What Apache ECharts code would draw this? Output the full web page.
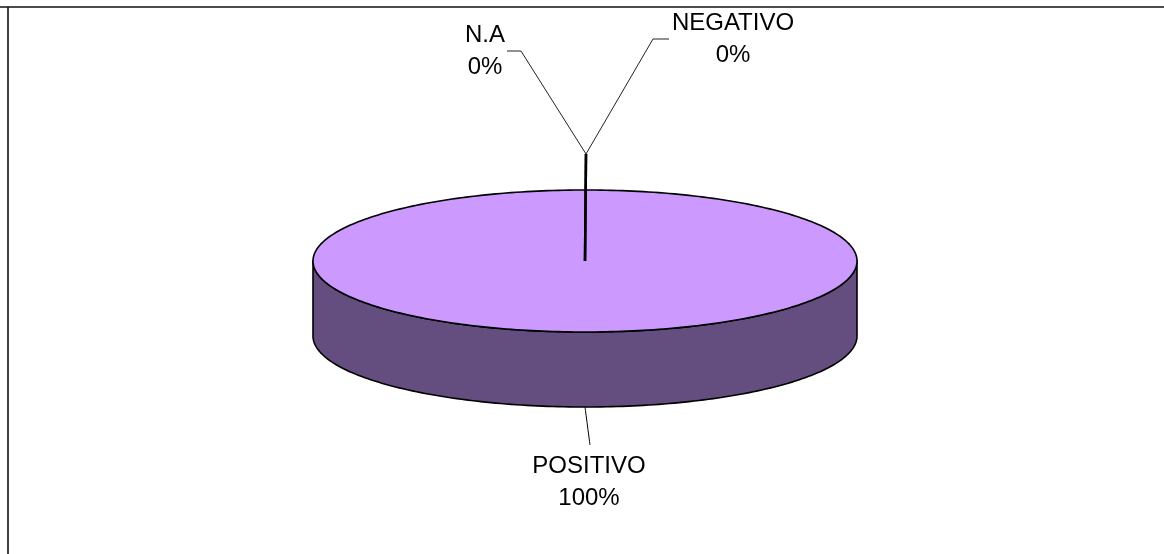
<!DOCTYPE html>
<html><head><meta charset="utf-8">
<script src="https://cdn.jsdelivr.net/npm/echarts@6/dist/echarts.min.js"></script>
<style>html,body{margin:0;padding:0;background:#fff}#main{width:1164px;height:554px}</style>
</head><body><div id="main"></div>
<script>
// ---- data ----
const categories = ['POSITIVO', 'NEGATIVO', 'N.A'];
const values = [100, 0, 0];

// ---- styling / layout (not data) ----
const topColor = '#CC99FF';
const sideColor = '#644E7F';
const geom = { cx: 585, cy: 261, rx: 272, ry: 71, depth: 75 };
const labelLayout = {
  'POSITIVO': { text: [589, 482], path: [[590, 445]] },
  'NEGATIVO': { text: [733, 39], path: [[586, 154], [653, 39], [669, 39]] },
  'N.A': { text: [485, 51.5], path: [[586, 154], [521, 51], [507, 51]] }
};

const total = values.reduce((a, b) => a + b, 0);

function renderItem(params, api) {
  const i = params.dataIndex;
  const v = api.value(1);
  let before = 0;
  for (let k = 0; k < i; k++) before += values[k];
  const a0 = before / total * 2 * Math.PI;
  const a1 = (before + v) / total * 2 * Math.PI;
  const G = geom;
  const pt = (t, dy) => [G.cx + G.rx * Math.sin(t), G.cy - G.ry * Math.cos(t) + (dy || 0)];
  const children = [];
  if (v > 0) {
    const s0 = Math.max(a0, Math.PI / 2), s1 = Math.min(a1, 3 * Math.PI / 2);
    if (s1 > s0) {
      const n = 160, pts = [];
      for (let k = 0; k <= n; k++) pts.push(pt(s0 + (s1 - s0) * k / n));
      for (let k = n; k >= 0; k--) pts.push(pt(s0 + (s1 - s0) * k / n, G.depth));
      children.push({ type: 'polygon', shape: { points: pts },
        style: { fill: sideColor, stroke: '#000', lineWidth: 1.6, lineJoin: 'round' }, z2: 1 });
    }
    const n = 320, pts = [];
    const full = (a1 - a0) >= 2 * Math.PI - 1e-9;
    for (let k = 0; k < n + (full ? 0 : 1); k++) pts.push(pt(a0 + (a1 - a0) * k / n));
    if (!full) pts.push([G.cx, G.cy]);
    children.push({ type: 'polygon', shape: { points: pts },
      style: { fill: topColor, stroke: '#000', lineWidth: 1.6, lineJoin: 'round' }, z2: 2 });
  }
  const cat = categories[i];
  const lay = labelLayout[cat];
  const pct = Math.round(v / total * 100) + '%';
  if (lay) {
    let start;
    const pathPts = lay.path.slice();
    if (v > 0) {
      const mid = (a0 + a1) / 2;
      const front = mid > Math.PI / 2 && mid < 3 * Math.PI / 2;
      start = pt(mid, front ? G.depth : 0);
      const pts = [start].concat(pathPts);
      children.push({ type: 'polyline', shape: { points: pts, smooth: 0.4 },
        style: { stroke: '#000', lineWidth: 1, fill: null }, z2: 5 });
    } else {
      start = [G.cx, G.cy];
      children.push({ type: 'line', shape: { x1: start[0], y1: start[1], x2: pathPts[0][0], y2: pathPts[0][1] },
        style: { stroke: '#000', lineWidth: 2.5 }, z2: 6 });
      children.push({ type: 'polyline', shape: { points: pathPts },
        style: { stroke: '#222', lineWidth: 1, fill: null }, z2: 5 });
    }
    children.push({ type: 'text', x: lay.text[0], y: lay.text[1], z2: 7,
      style: { text: cat + '\n' + pct, fill: '#000', fontFamily: '"Liberation Sans", Arial, sans-serif',
        fontSize: 24, lineHeight: 32, align: 'center', verticalAlign: 'middle' } });
  }
  return { type: 'group', children: children };
}

const chart = echarts.init(document.getElementById('main'), null, { renderer: 'canvas' });
chart.setOption({
  backgroundColor: '#fff',
  animation: false,
  graphic: [
    { type: 'line', shape: { x1: 0, y1: 7, x2: 1164, y2: 7 }, style: { stroke: '#111', lineWidth: 1.6 } },
    { type: 'line', shape: { x1: 8, y1: 7, x2: 8, y2: 554 }, style: { stroke: '#111', lineWidth: 1.6 } }
  ],
  series: [{
    type: 'custom',
    coordinateSystem: 'none',
    renderItem: renderItem,
    data: categories.map((c, i) => [i, values[i]])
  }]
});
</script></body></html>
